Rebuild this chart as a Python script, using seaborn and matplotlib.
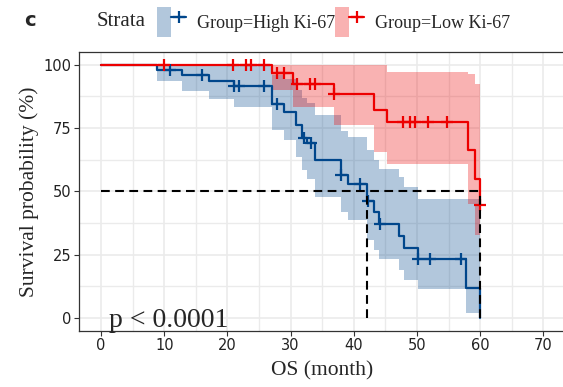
import numpy as np
import pandas as pd
import seaborn as sns
from matplotlib import pyplot as plt
from matplotlib.patches import Patch
from matplotlib.lines import Line2D
from matplotlib.legend_handler import HandlerTuple

# High Ki-67 curve (months, survival %)
hi_t = [0, 8.9, 12.8, 17.0, 21.0, 27.1, 28.9, 30.8, 31.8, 32.6, 33.9, 37.9, 39.0,
        42.1, 43.2, 44.0, 47.1, 48.0, 50.1, 57.8, 60.0]
hi_s = [100, 97.9, 95.8, 93.6, 91.6, 84.6, 81.3, 76.0, 71.2, 69.0, 62.2, 56.3, 52.8,
        46.3, 41.8, 37.3, 32.2, 27.8, 23.4, 11.8, 0]
hi_up = [100, 100, 100, 100, 100, 95.8, 94.5, 90.0, 87.0, 85.0, 80.0, 74.0, 71.4,
         66.2, 62.2, 59.0, 55.7, 51.7, 47.1, 47.1, 47.1]
hi_lo = [100, 93.7, 89.7, 86.4, 83.1, 74.1, 70.1, 63.5, 58.3, 55.0, 47.8, 41.8, 38.6,
         30.7, 27.0, 23.4, 18.8, 14.9, 11.3, 2.0, 2.0]
hi_cens_t = [10.9, 16.0, 21.0, 21.9, 25.8, 27.9, 32.1, 33.2, 37.9, 41.0, 42.3, 44.2,
             50.1, 52.0, 56.9]
hi_cens_s = [97.9, 95.8, 91.6, 91.6, 91.6, 84.6, 71.2, 69.0, 56.3, 52.8, 46.3, 37.3,
             23.4, 23.4, 23.4]

# Low Ki-67 curve
lo_t = [0, 27.1, 30.3, 36.8, 43.2, 45.2, 58.0, 59.1, 60.0]
lo_s = [100, 96.7, 92.5, 88.3, 82.2, 77.4, 66.2, 55.0, 44.5]
lo_up = [100, 100, 100, 100, 100, 97.2, 96.4, 92.5, 92.5]
lo_lo = [100, 89.9, 83.3, 76.0, 65.5, 60.6, 45.1, 32.6, 32.6]
lo_cens_t = [10.0, 20.9, 22.9, 23.8, 25.8, 27.9, 28.9, 31.0, 33.1, 33.9, 36.8,
             47.8, 48.9, 49.7, 51.8, 54.8, 60.0]
lo_cens_s = [100, 100, 100, 100, 100, 96.7, 96.7, 92.5, 92.5, 92.5, 88.3,
             77.4, 77.4, 77.4, 77.4, 77.4, 44.5]

# medians
med_hi = 42.1
med_lo = 60.0

groups = ["Group=High Ki-67", "Group=Low Ki-67"]
colors = ["#00468B", "#ED0000"]

sns.set_theme(style="white")
plt.rcParams['font.family'] = ['DejaVu Sans']
serif = ['Liberation Serif', 'DejaVu Serif']

fig = plt.figure(figsize=(5.63, 3.87), dpi=100)
ax = fig.add_axes([79 / 563, (387 - 330.7) / 387, (565.5 - 79) / 563, (330.7 - 52) / 387])

curves = [(hi_t, hi_s, hi_up, hi_lo, hi_cens_t, hi_cens_s),
          (lo_t, lo_s, lo_up, lo_lo, lo_cens_t, lo_cens_s)]

for (t, s, up, lo, ct, cs), col in zip(curves, colors):
    ax.fill_between(t, lo, up, step='post', color=col, alpha=0.3, lw=0, zorder=2)

for (t, s, up, lo, ct, cs), col in zip(curves, colors):
    df = pd.DataFrame({'t': t, 's': s})
    sns.lineplot(data=df, x='t', y='s', drawstyle='steps-post', color=col, lw=1.6,
                 estimator=None, sort=False, ax=ax, zorder=3)
    sns.scatterplot(x=ct, y=cs, marker='+', s=80, color=col, linewidth=1.6, ax=ax, zorder=4)

# median lines
dash = (0, (4.2, 2.6))
ax.plot([0, med_lo], [50, 50], color='black', ls=dash, lw=1.5, zorder=5)
for m in [med_hi, med_lo]:
    ax.plot([m, m], [0, 50], color='black', ls=dash, lw=1.5, zorder=5)

ax.text(1.3, -3.5, "p < 0.0001", family=serif, fontsize=20, va='baseline', ha='left')

ax.set_xlim(-3.5, 73.5)
ax.set_ylim(-5, 105)
ax.set_xticks(np.arange(0, 71, 10))
ax.set_yticks([0, 25, 50, 75, 100])
ax.set_xticks(np.arange(5, 70, 10), minor=True)
ax.set_yticks([12.5, 37.5, 62.5, 87.5], minor=True)
ax.grid(True, which='major', color='#EBEBEB', lw=1.2, zorder=0)
ax.grid(True, which='minor', color='#EBEBEB', lw=1.0, zorder=0)
ax.set_axisbelow(True)
ax.tick_params(which='major', direction='out', length=3.5, width=0.8, color='#333333',
               labelsize=10.5, labelcolor='#222222', pad=2, left=True, bottom=True)
ax.tick_params(which='minor', length=0)
for side in ['left', 'bottom', 'top']:
    ax.spines[side].set_color('#333333')
    ax.spines[side].set_linewidth(0.9)
ax.spines['right'].set_visible(False)

ax.set_xlabel("OS (month)", family=serif, fontsize=15.5, labelpad=6)
ax.set_ylabel("Survival probability (%)", family=serif, fontsize=15.5, labelpad=3)

# legend
handles = [(Patch(facecolor=c, alpha=0.3, lw=0),
            Line2D([], [], color=c, lw=1.6, marker='+', ms=8, mew=1.6)) for c in colors]
fig.legend(handles, groups, handler_map={tuple: HandlerTuple(ndivide=None, pad=0)},
           loc='center left', bbox_to_anchor=(148 / 563, 1 - 22 / 387), ncol=2,
           frameon=False, borderpad=0, handlelength=1.6, handleheight=2.2,
           handletextpad=0.6, columnspacing=0.0, prop={'family': serif, 'size': 13})
fig.text(97 / 563, 1 - 22 / 387, "Strata", family=serif, fontsize=15, va='center', ha='left')
fig.text(24 / 563, 1 - 21 / 387, "c", fontsize=14, weight='bold', va='center', ha='left')

plt.savefig("out.png", dpi=100)
plt.close()
